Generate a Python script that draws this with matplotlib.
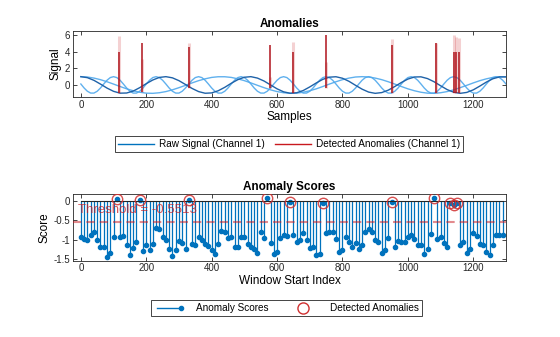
import matplotlib.pyplot as plt
from matplotlib.lines import Line2D
from matplotlib.legend_handler import HandlerLine2D

plt.rcParams['font.family'] = ['Liberation Sans', 'DejaVu Sans']

# raw signal, one value every 20 samples
sample_x = list(range(0, 1301, 20))
channel1 = [1.00, 0.88, 0.56, 0.11, -0.37, -0.76, -0.98, -0.96, -0.73, -0.32,
            0.16, 0.60, 0.91, 1.00, 0.86, 0.52, 0.06, -0.41, -0.79, -0.99,
            -0.95, -0.69, -0.28, 0.21, 0.64, 0.93, 1.00, 0.83, 0.48, 0.01,
            -0.46, -0.82, -0.99, -0.93, -0.66, -0.23, 0.25, 0.68, 0.94, 0.99,
            0.81, 0.44, -0.04, -0.50, -0.85, -1.00, -0.91, -0.62, -0.18, 0.30,
            0.71, 0.96, 0.98, 0.77, 0.39, -0.09, -0.55, -0.87, -1.00, -0.89,
            -0.58, -0.13, 0.35, 0.75, 0.97, 0.97]
slow_wave = [1.00, 0.96, 0.83, 0.64, 0.39, 0.11, -0.18, -0.46, -0.69, -0.87,
             -0.98, -1.00, -0.93, -0.79, -0.58, -0.32, -0.04, 0.25, 0.52, 0.74,
             0.91, 0.99, 0.99, 0.91, 0.74, 0.52, 0.25, -0.04, -0.32, -0.58,
             -0.79, -0.93, -1.00, -0.98, -0.87, -0.69, -0.46, -0.18, 0.11, 0.39,
             0.64, 0.83, 0.96, 1.00, 0.96, 0.83, 0.64, 0.39, 0.11, -0.18,
             -0.46, -0.69, -0.87, -0.98, -1.00, -0.93, -0.79, -0.58, -0.32, -0.04,
             0.25, 0.52, 0.74, 0.91, 0.99, 0.99]

# faster component, one value every 10 samples
fast_x = list(range(0, 1301, 10))
fast_wave = [0.12, -0.36, -0.75, -0.97, -0.97, -0.75, -0.36, 0.12, 0.57, 0.89, 1.00, 0.89, 0.57,
             0.12, -0.36, -0.75, -0.97, -0.97, -0.75, -0.36, 0.12, 0.57, 0.89, 1.00, 0.89, 0.57,
             0.12, -0.36, -0.75, -0.97, -0.97, -0.75, -0.36, 0.12, 0.57, 0.89, 1.00, 0.89, 0.57,
             0.12, -0.36, -0.75, -0.97, -0.97, -0.75, -0.36, 0.12, 0.57, 0.89, 1.00, 0.89, 0.57,
             0.12, -0.36, -0.75, -0.97, -0.97, -0.75, -0.36, 0.12, 0.57, 0.89, 1.00, 0.89, 0.57,
             0.12, -0.36, -0.75, -0.97, -0.97, -0.75, -0.36, 0.12, 0.57, 0.89, 1.00, 0.89, 0.57,
             0.12, -0.36, -0.75, -0.97, -0.97, -0.75, -0.36, 0.12, 0.57, 0.89, 1.00, 0.89, 0.57,
             0.12, -0.36, -0.75, -0.97, -0.97, -0.75, -0.36, 0.12, 0.57, 0.89, 1.00, 0.89, 0.57,
             0.12, -0.36, -0.75, -0.97, -0.97, -0.75, -0.36, 0.12, 0.57, 0.89, 1.00, 0.89, 0.57,
             0.12, -0.36, -0.75, -0.97, -0.97, -0.75, -0.36, 0.12, 0.57, 0.89, 1.00, 0.89, 0.57,
             0.12]

# spikes inside the detected windows
spike_x = [117, 188, 331, 577, 650, 751, 952, 1085, 1141, 1148, 1156]
spike_low = [-1.0, -0.8, -0.4, -0.3, -1.0, -0.4, -1.0, -1.0, -1.0, -1.0, -1.0]
spike_high = [4.0, 5.1, 4.6, 4.8, 4.0, 6.0, 4.8, 5.0, 4.0, 4.0, 4.0]
spike_other = [5.9, 3.1, 5.0, 1.0, 5.2, 2.8, 5.5, 5.0, 6.0, 5.8, 5.7]

# anomaly score per window
window_idx = list(range(0, 1291, 10))
scores = [-0.94, -0.98, -1.01, -0.88, -0.81, -1.00, -1.20, -1.18, -1.44, -1.34,
          -0.94, 0.04, -0.94, -0.91, -1.15, -1.40, -1.22, -1.05, 0.02, -1.30,
          -1.14, -1.28, -1.12, -0.70, -0.73, -0.92, -1.02, -1.24, -1.42, -1.26,
          -1.03, -1.08, -1.23, 0.02, -1.12, -1.15, -0.94, -1.02, -1.12, -1.16,
          -1.28, -1.36, -1.10, -0.77, -0.80, -0.95, -0.94, -1.20, -1.20, -0.92,
          -0.94, -1.10, -1.18, -1.25, -1.34, -0.80, -0.95, 0.08, -1.09, -1.37,
          -1.33, -0.96, -0.88, -0.90, -0.02, -0.88, -1.05, -1.01, -0.84, -1.00,
          -1.22, -1.20, -1.40, -1.36, -0.04, -0.83, -0.81, -0.81, -0.98, -1.33,
          -1.28, -0.94, -1.06, -1.20, -1.08, -1.23, -1.14, -0.80, -0.72, -0.80,
          -1.00, -1.07, -1.35, -1.28, -0.96, -0.02, -1.20, -1.04, -1.05, -1.06,
          -0.94, -0.88, -0.97, -1.13, -1.14, -1.37, -1.24, -0.85, 0.07, -0.97,
          -0.94, -1.08, -1.19, -0.05, -0.10, -0.06, -1.14, -1.06, -1.34, -1.24,
          -0.83, -0.91, -1.11, -1.14, -1.32, -1.40, -1.14, -0.89, -0.89, -0.89]
anomaly_idx = [110, 180, 330, 570, 640, 740, 950, 1080, 1130, 1140, 1150]
threshold = -0.5513

blue = '#0072BD'
light_blue = '#4FA8EC'
red = '#C8191E'
axis_grey = '#262626'

fig = plt.figure(figsize=(5.6, 3.37), dpi=100)
ax1 = fig.add_axes([73 / 560, 1 - 97 / 337, 433 / 560, 66 / 337])
ax2 = fig.add_axes([73 / 560, 1 - 260.7 / 337, 433 / 560, 66.4 / 337])

# top: signal with anomalous spikes
ax1.plot(sample_x, slow_wave, color=light_blue, lw=1, alpha=0.9)
ax1.plot(fast_x, fast_wave, color=light_blue, lw=1, alpha=0.9)
ax1.plot(sample_x, channel1, color='#1f62a8', lw=1)
ax1.vlines(spike_x, spike_low, spike_other, color=red, alpha=0.2, lw=2.2)
ax1.vlines(spike_x, spike_low, spike_high, color='#B0141C', lw=1.1)
ax1.set_xlim(-24, 1300)
ax1.set_ylim(-1.44, 6.48)
ax1.set_yticks([0, 2, 4, 6])
ax1.set_title('Anomalies', fontsize=8.5, fontweight='bold', pad=3)
ax1.set_xlabel('Samples', fontsize=8.5, labelpad=1)
ax1.set_ylabel('Signal', fontsize=8.5, labelpad=2)

# bottom: stem plot of scores
markerline, stemlines, baseline = ax2.stem(window_idx, scores, linefmt='-', markerfmt='o', basefmt='-')
stemlines.set_color(blue)
stemlines.set_linewidth(0.9)
markerline.set_color(blue)
markerline.set_markersize(3)
baseline.set_color(axis_grey)
baseline.set_linewidth(0.8)

ax2.axhline(threshold, color=red, alpha=0.5, lw=1.5, ls=(0, (4, 2.4)), zorder=4)
ax2.text(-8, -0.23, 'Threshold = -0.5513', color=red, alpha=0.75, fontsize=9.5,
         ha='left', va='center', zorder=5)

anomaly_scores = [scores[window_idx.index(i)] for i in anomaly_idx]
ax2.plot(anomaly_idx, anomaly_scores, ls='none', marker='o', ms=7.5, mfc='none',
         mec='#D03030', mew=1, alpha=0.85, zorder=6)
ax2.set_xlim(-24, 1300)
ax2.set_ylim(-1.544, 0.173)
ax2.set_yticks([-1.5, -1, -0.5, 0])
ax2.set_yticklabels(['-1.5', '-1', '-0.5', '0'])
ax2.set_title('Anomaly Scores', fontsize=8.5, fontweight='bold', pad=3)
ax2.set_xlabel('Window Start Index', fontsize=8.5, labelpad=1)
ax2.set_ylabel('Score', fontsize=8.5, labelpad=2)

for ax in (ax1, ax2):
    ax.set_xticks(range(0, 1201, 200))
    ax.tick_params(direction='in', length=3, width=0.6, top=True, right=True,
                   labelsize=7, colors=axis_grey, pad=2)
    for sp in ax.spines.values():
        sp.set_color(axis_grey)
        sp.set_linewidth(0.6)

leg_kw = dict(ncol=2, loc='center', fontsize=7.2, frameon=True, fancybox=False,
              edgecolor=axis_grey, framealpha=1, borderpad=0.3, columnspacing=1.0,
              handletextpad=0.5, handlelength=3.6)
h_raw = Line2D([], [], color=blue, lw=1, label='Raw Signal (Channel 1)')
h_anom = Line2D([], [], color=red, lw=1, label='Detected Anomalies (Channel 1)')
leg1 = fig.legend(handles=[h_raw, h_anom], bbox_to_anchor=(289 / 560, 1 - 144 / 337), **leg_kw)
leg1.get_frame().set_linewidth(0.6)

h_score = Line2D([], [], color=blue, lw=1, marker='o', ms=3, label='Anomaly Scores')
h_det = Line2D([], [], ls='none', marker='o', ms=8, mfc='none', mec='#D03030', mew=1,
               label='Detected Anomalies')
leg_kw['handletextpad'] = 1.2
leg_kw['handlelength'] = 3.0
leg_kw['columnspacing'] = 2.0
leg2 = fig.legend(handles=[h_score, h_det], bbox_to_anchor=(286.5 / 560, 1 - 308 / 337),
                  handler_map={h_score: HandlerLine2D(numpoints=2)}, **leg_kw)
leg2.get_frame().set_linewidth(0.6)
# only the right end of the score entry carries a marker
leg2.legend_handles[0].set_markevery([1])

fig.savefig('out.png', dpi=100)
